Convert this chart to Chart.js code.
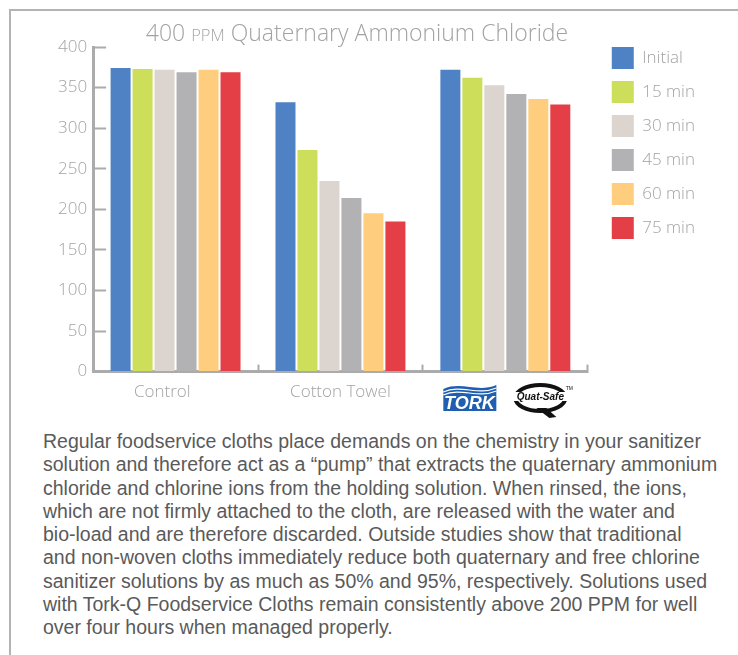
<!DOCTYPE html>
<html>
<head>
<meta charset="utf-8">
<script src="https://cdn.jsdelivr.net/npm/chart.js@4/dist/chart.umd.min.js"></script>
<style>
  html, body { margin: 0; padding: 0; background: #fff; }
  body { width: 738px; height: 655px; position: relative; overflow: hidden; }
  #frame { position: absolute; left: 9px; top: 9px; right: -10px; bottom: -10px;
           border-top: 2px solid #b3b3b3; border-left: 2px solid #b3b3b3; }
  #chartBox { position: absolute; left: 0; top: 0; width: 738px; height: 429px; }
  #blurb { position: absolute; left: 43px; top: 430px; width: 690px;
           font-family: "Liberation Sans", Arial, sans-serif; font-size: 19.5px;
           line-height: 23.3px; color: #5a5a5a; white-space: nowrap; }
</style>
</head>
<body>
<div id="frame"></div>
<div id="chartBox"><canvas id="ppmChart"></canvas></div>
<div id="blurb">
Regular foodservice cloths place demands on the chemistry in your sanitizer<br>
solution and therefore act as a “pump” that extracts the quaternary ammonium<br>
chloride and chlorine ions from the holding solution. When rinsed, the ions,<br>
which are not firmly attached to the cloth, are released with the water and<br>
bio-load and are therefore discarded. Outside studies show that traditional<br>
and non-woven cloths immediately reduce both quaternary and free chlorine<br>
sanitizer solutions by as much as 50% and 95%, respectively. Solutions used<br>
with Tork-Q Foodservice Cloths remain consistently above 200 PPM for well<br>
over four hours when managed properly.
</div>
<script>
// --- DATA ---
const categories = ['Control      ', 'Cotton Towel', ''];
const seriesNames = ['Initial', '15 min', '30 min', '45 min', '60 min', '75 min'];
const initial = [374, 332, 372];
const min15 = [373, 273, 362];
const min30 = [372, 235, 353];
const min45 = [369, 214, 342];
const min60 = [372, 195, 336];
const min75 = [369, 185, 329];
const yTicks = [0, 50, 100, 150, 200, 250, 300, 350, 400];

const seriesValues = [initial, min15, min30, min45, min60, min75];
const colors = ['#4f82c4', '#cdde5a', '#dcd4ce', '#b2b2b4', '#fece7e', '#e43e46'];
const axisGray = '#ababab';
const textGray = '#a3a3a3';
const font = '"Open Sans", "Liberation Sans", sans-serif';
const plainFont = '"Liberation Sans", Arial, sans-serif';

// --- TITLE with small caps "PPM" ---
const titlePlugin = {
  id: 'ppmTitle',
  afterDraw(chart) {
    const c = chart.ctx;
    const parts = [['400 ', 23], ['PPM', 16.5], [' Quaternary Ammonium Chloride', 23]];
    c.save();
    c.fillStyle = textGray;
    c.textBaseline = 'alphabetic';
    let total = 0;
    parts.forEach(p => { c.font = '300 ' + p[1] + 'px ' + font; total += c.measureText(p[0]).width; });
    let x = 357 - total / 2;
    parts.forEach(p => {
      c.font = '300 ' + p[1] + 'px ' + font;
      c.fillText(p[0], x, 41);
      x += c.measureText(p[0]).width;
    });
    c.restore();
  }
};

// --- LOGOS under the third category ---
const logoPlugin = {
  id: 'logos',
  afterDraw(chart) {
    const c = chart.ctx;
    const cx = chart.scales.x.getPixelForValue(2);
    c.save();
    // TORK
    const tx = cx - 62, ty = 383;
    c.fillStyle = '#1f5eb0';
    c.beginPath();
    c.moveTo(tx, ty + 6);
    c.bezierCurveTo(tx + 18, ty - 2, tx + 34, ty + 10, tx + 53, ty + 2);
    c.lineTo(tx + 53, ty + 28);
    c.lineTo(tx, ty + 28);
    c.closePath();
    c.fill();
    c.strokeStyle = '#fff';
    c.lineWidth = 1.2;
    for (let i = 0; i < 2; i++) {
      c.beginPath();
      c.moveTo(tx, ty + 9 + i * 3);
      c.bezierCurveTo(tx + 18, ty + 1 + i * 3, tx + 34, ty + 13 + i * 3, tx + 53, ty + 5 + i * 3);
      c.stroke();
    }
    c.fillStyle = '#fff';
    c.font = 'italic bold 18px ' + plainFont;
    c.textAlign = 'center';
    c.textBaseline = 'alphabetic';
    c.fillText('TORK', tx + 26, ty + 26);
    // Quat-Safe
    const qx = cx + 35, qy = 398;
    c.strokeStyle = '#111';
    c.lineWidth = 4;
    c.beginPath();
    c.ellipse(qx, qy, 25, 13, 0, 0, Math.PI * 2);
    c.stroke();
    c.fillStyle = '#111';
    c.beginPath();
    c.moveTo(qx - 4, qy + 10);
    c.lineTo(qx + 6, qy + 10);
    c.lineTo(qx + 16, qy + 19);
    c.lineTo(qx + 9, qy + 20);
    c.closePath();
    c.fill();
    c.fillStyle = '#fff';
    c.fillRect(qx - 29, qy - 6, 58, 9);
    c.fillStyle = '#111';
    c.font = 'italic bold 10px ' + plainFont;
    c.fillText('Quat-Safe', qx, qy + 2);
    c.font = '5px ' + plainFont;
    c.fillText('TM', qx + 29, qy - 8);
    c.restore();
  }
};

new Chart(document.getElementById('ppmChart'), {
  type: 'bar',
  data: {
    labels: categories,
    datasets: seriesNames.map((name, i) => ({
      label: name,
      data: seriesValues[i],
      backgroundColor: colors[i],
      borderWidth: 0,
      categoryPercentage: 0.8,
      barPercentage: 0.91
    }))
  },
  plugins: [titlePlugin, logoPlugin],
  options: {
    responsive: true,
    maintainAspectRatio: false,
    animation: false,
    layout: { padding: { top: 35, left: 39, right: 33, bottom: 10 } },
    plugins: {
      tooltip: { enabled: false },
      title: { display: true, text: '', fullSize: false, font: { size: 10 }, padding: 0 },
      legend: {
        position: 'right',
        align: 'start',
        labels: {
          boxWidth: 22, boxHeight: 22, padding: 12,
          color: textGray, font: { family: font, size: 17, weight: '300' }
        }
      }
    },
    scales: {
      x: {
        grid: { drawOnChartArea: false, offset: true, tickLength: -7, tickWidth: 2, color: axisGray },
        border: { color: axisGray, width: 3 },
        ticks: { color: textGray, font: { family: font, size: 17, weight: '300' }, padding: 17 }
      },
      y: {
        min: 0, max: 400,
        afterBuildTicks: scale => { scale.ticks = yTicks.map(v => ({ value: v })); },
        grid: { drawOnChartArea: false, tickLength: -13, tickWidth: 2, color: axisGray },
        border: { color: axisGray, width: 3 },
        ticks: { color: textGray, font: { family: font, size: 17, weight: '300' }, padding: 19 }
      },
      gap: {
        position: 'right',
        display: true,
        grid: { display: false },
        border: { display: false },
        ticks: { display: false },
        afterFit: scale => { scale.width = 12; }
      }
    }
  }
});
</script>
</body>
</html>
